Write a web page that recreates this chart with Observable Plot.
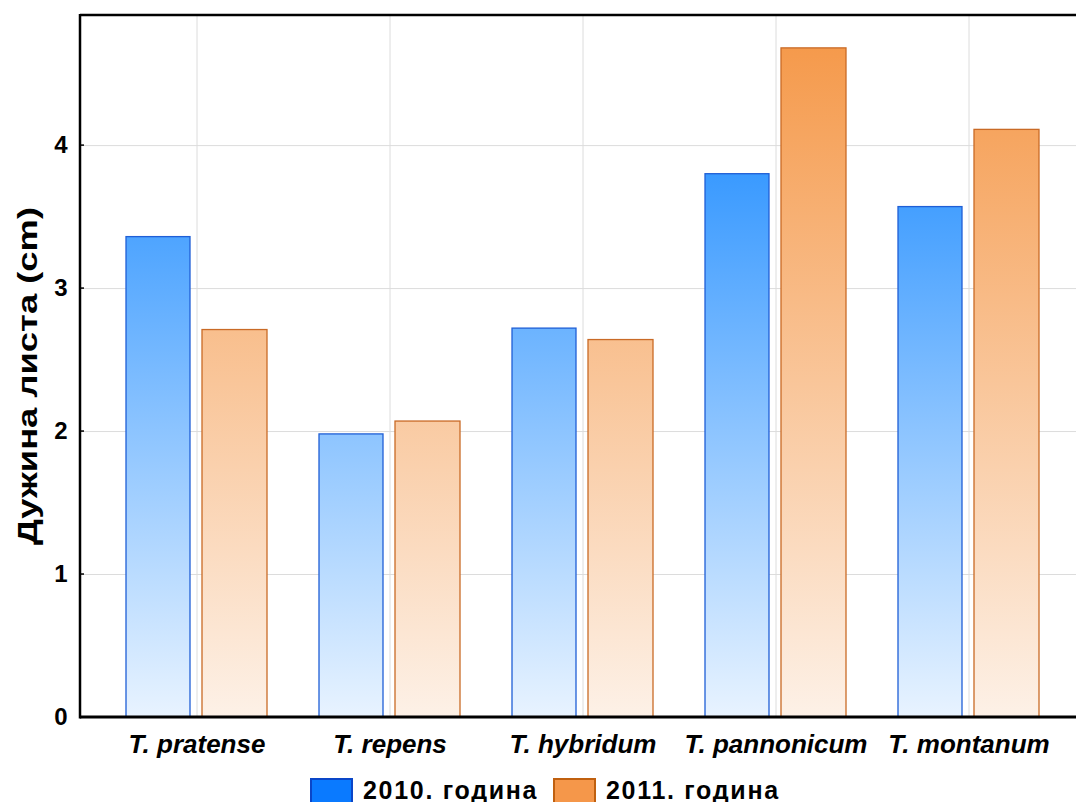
<!DOCTYPE html>
<html>
<head>
<meta charset="utf-8">
<script src="https://cdn.jsdelivr.net/npm/d3@7"></script>
<script src="https://cdn.jsdelivr.net/npm/@observablehq/plot@0.6"></script>
<style>
  html, body { margin: 0; padding: 0; background: #fff; }
  #wrap { position: relative; width: 1076px; }
  #legend { position: relative; height: 34px; font-family: "Liberation Sans", Arial, sans-serif; font-weight: bold; }
  .item { position: absolute; top: 8px; display: flex; align-items: center; }
  .sw { width: 39px; height: 22px; border: 2px solid; box-sizing: content-box; }
  .lab { font-size: 25px; margin-left: 10px; letter-spacing: 1.7px; color: #000; }
</style>
</head>
<body>
<div id="wrap"></div>
<script>
const categories = ["T. pratense", "T. repens", "T. hybridum", "T. pannonicum", "T. montanum"];
const values2010 = [3.36, 1.98, 2.72, 3.80, 3.57];
const values2011 = [2.71, 2.07, 2.64, 4.68, 4.11];
const yTicks = [0, 1, 2, 3, 4];
const seriesLabels = ["2010. година", "2011. година"];
const yLabel = "Дужина листа (cm)";

const d2010 = categories.map((c, i) => ({cat: c, value: values2010[i]}));
const d2011 = categories.map((c, i) => ({cat: c, value: values2011[i]}));

const W = 1076, H = 768, mL = 80, mT = 15, mB = 51;
const font = "'Liberation Sans', Arial, sans-serif";

const chart = Plot.plot({
  width: W, height: H,
  marginLeft: mL, marginRight: 0, marginTop: mT, marginBottom: mB,
  style: {fontFamily: font, color: "#000", background: "#fff"},
  x: {domain: categories, range: [99.4, 1065.6], paddingInner: 0.2704, paddingOuter: 0.135, align: 0.5, label: null},
  y: {domain: [0, 4.91], label: null},
  marks: [
    Plot.gridY(yTicks, {stroke: "#dcdcdc", strokeOpacity: 1, strokeWidth: 1}),
    Plot.gridX(categories, {stroke: "#dcdcdc", strokeOpacity: 1, strokeWidth: 1}),
    Plot.barY(d2010, {x: "cat", y: "value", insetRight: 77, fill: "url(#g2010)", stroke: "#1f5fd6", strokeWidth: 1.3}),
    Plot.barY(d2011, {x: "cat", y: "value", insetLeft: 76, fill: "url(#g2011)", stroke: "#c96a26", strokeWidth: 1.3}),
    Plot.axisY(yTicks, {tickSize: 0, tickPadding: 13, tickFormat: d3.format("d"), fontSize: 24, fontWeight: "bold", label: null}),
    Plot.axisX({tickSize: 0, tickPadding: 17, fontSize: 26, fontWeight: "bold", fontStyle: "italic", label: null})
  ]
});

const svg = d3.select(chart);
const y = chart.scale("y");
const y0 = y.apply(0), yTop = y.apply(4.91);
const defs = svg.insert("defs", ":first-child");
function grad(id, stops) {
  const g = defs.append("linearGradient").attr("id", id)
    .attr("gradientUnits", "userSpaceOnUse")
    .attr("x1", 0).attr("x2", 0).attr("y1", y0).attr("y2", yTop);
  stops.forEach(([v, c]) => g.append("stop").attr("offset", v / 4.91).attr("stop-color", c));
}
grad("g2010", [[0, "#e8f3ff"], [3.8, "#3a9aff"], [4.91, "#1a8aff"]]);
grad("g2011", [[0, "#fdf1e7"], [4.68, "#f59a4c"], [4.91, "#f4944a"]]);

// frame lines (left, top, bottom)
const fr = svg.append("g").attr("stroke", "#000");
fr.append("line").attr("x1", mL).attr("x2", W).attr("y1", yTop).attr("y2", yTop).attr("stroke-width", 2.5);
fr.append("line").attr("x1", mL).attr("x2", W).attr("y1", y0).attr("y2", y0).attr("stroke-width", 3);
fr.append("line").attr("x1", mL).attr("x2", mL).attr("y1", yTop - 1).attr("y2", y0 + 1.5).attr("stroke-width", 2.5);
yTicks.forEach(t => fr.append("line").attr("x1", mL).attr("x2", mL + 4).attr("y1", y.apply(t)).attr("y2", y.apply(t)).attr("stroke-width", 1.5));

// y-axis title
svg.append("text")
  .attr("transform", `translate(30,${(y0 + yTop) / 2 + 10}) rotate(-90)`)
  .attr("text-anchor", "middle").attr("dominant-baseline", "middle")
  .attr("font-family", font).attr("font-size", 28).attr("font-weight", "bold")
  .attr("textLength", 338).attr("lengthAdjust", "spacingAndGlyphs")
  .text(yLabel);

const wrap = document.getElementById("wrap");
wrap.appendChild(chart);

const legend = document.createElement("div");
legend.id = "legend";
const legendColors = [["#0a7aff", "#0a46c8"], ["#f5974a", "#c0600f"]];
const legendLeft = [310, 553];
seriesLabels.forEach((s, i) => {
  const it = document.createElement("div");
  it.className = "item";
  it.style.left = legendLeft[i] + "px";
  const sw = document.createElement("div");
  sw.className = "sw";
  sw.style.background = legendColors[i][0];
  sw.style.borderColor = legendColors[i][1];
  const lab = document.createElement("span");
  lab.className = "lab";
  lab.textContent = s;
  it.appendChild(sw); it.appendChild(lab);
  legend.appendChild(it);
});
wrap.appendChild(legend);
</script>
</body>
</html>
